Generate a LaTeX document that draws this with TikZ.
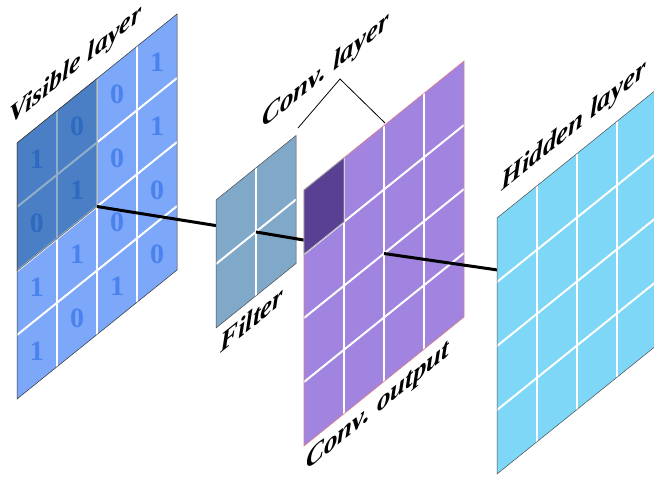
\documentclass[tikz,border=0pt]{standalone}
\usepackage{fontspec}
\setmainfont{Liberation Serif}
\usetikzlibrary{positioning}
\definecolor{visblue}{HTML}{7DA7F8}
\definecolor{digitblue}{HTML}{4A82EE}
\definecolor{shadeblue}{RGB}{12,78,137}
\definecolor{filterblue}{HTML}{80A8C8}
\definecolor{convpurple}{HTML}{A084E0}
\definecolor{convdark}{HTML}{5A4092}
\definecolor{convedge}{HTML}{E08080}
\definecolor{hiddenblue}{HTML}{7FD7F7}
\tikzset{
    plane/.style = {
        draw=black!80, 
        line width=0.5pt
    },
    cellline/.style = {
        draw=white, 
        line width=2pt
    },
    digit/.style = {
        text=digitblue, 
        inner sep=0pt,
        font=\fontsize{28}{28}\selectfont\bfseries
    },
    layername/.style = {
        anchor=base west, 
        inner sep=0pt,
        yslant=0.806,
        font=\fontsize{27}{30}\selectfont\bfseries\itshape
    },
    connector/.style = {
        draw, 
        line width=3pt
    }
}

\begin{document}
\begin{tikzpicture}[x=1pt,y=-1pt]
            \useasboundingbox (0,0) rectangle (654,479);
            \clip (0,0) rectangle (654,479);
            % visible layer
            \begin{scope}[shift={(17,143)},yslant=0.806]
                \fill[visblue] (0,0) rectangle (160,256);
                \foreach \i in {40,80,120} \draw[cellline] (\i,0) -- (\i,256);
                \foreach \j in {64,128,192} \draw[cellline] (0,\j) -- (160,\j);
                \foreach \c/\r/\v in {1/1/1,1/2/0,1/3/1,1/4/1,2/1/0,2/2/1,2/3/1,2/4/0,
                                      3/1/0,3/2/0,3/3/0,3/4/1,4/1/1,4/2/1,4/3/0,4/4/0}
                    \node[digit] (v\c\r) at (\c*40-20,\r*64-32) {\v};
                \fill[shadeblue,opacity=0.45] (0,0) rectangle (80,128);
                \draw[black!60,line width=0.5pt] (0,0) rectangle (80,128);
                \draw[plane] (0,0) rectangle (160,256);
                \coordinate (visc) at (80,128);
            \end{scope}
            
            % filter
            \coordinate (filc) at (256,232);
            \draw[connector] (visc) -- (filc);
            \begin{scope}[shift={(216,200)},yslant=0.806]
                \fill[filterblue] (0,0) rectangle (80,128);
                \draw[cellline] (40,0) -- (40,128);
                \draw[cellline] (0,64) -- (80,64);
                \draw[plane,draw=black!70] (0,0) rectangle (80,128);
            \end{scope}
            
            % conv. output
            \begin{scope}[shift={(304,190)},yslant=0.806]
                \coordinate (convc) at (80,128);
            \end{scope}
            \draw[connector] (filc) -- (convc);
            \begin{scope}[shift={(304,190)},yslant=0.806]
                \fill[convpurple] (0,0) rectangle (160,256);
                \foreach \i in {40,80,120} \draw[cellline] (\i,0) -- (\i,256);
                \foreach \j in {64,128,192} \draw[cellline] (0,\j) -- (160,\j);
                \draw[convedge,line width=0.6pt] (0,0) rectangle (160,256);
                \fill[convdark,draw=black!35,line width=0.8pt] (0,0) rectangle (40,64);
            \end{scope}
            
            % hidden layer
            \begin{scope}[shift={(497,218)},yslant=0.806]
                \coordinate (hidc) at (80,128);
            \end{scope}
            \draw[connector] (convc) -- (hidc);
            \begin{scope}[shift={(497,218)},yslant=0.806]
                \fill[hiddenblue] (0,0) rectangle (160,256);
                \foreach \i in {40,80,120} \draw[cellline] (\i,0) -- (\i,256);
                \foreach \j in {64,128,192} \draw[cellline] (0,\j) -- (160,\j);
                \draw[plane,draw=black!70] (0,0) rectangle (160,256);
            \end{scope}
            
            % bracket
            \coordinate (brleft) at (298,128);
            \coordinate (brtop) at (340,79);
            \coordinate (brright) at (385,123);
            \draw[line width=0.8pt] (brleft) -- (brtop) -- (brright);
            
            % names
            \node[layername,font=\fontsize{26}{30}\selectfont\bfseries\itshape] (visname) at (9,126) {Visible layer};
            \node[layername] (filname) at (220,354) {Filter};
            \node[layername] (convname) at (262,129) {Conv.\ layer};
            \node[layername] (outname) at (306,471) {Conv.\ output};
            \node[layername] (hidname) at (501,192) {Hidden layer};
        \end{tikzpicture}
\end{document}
